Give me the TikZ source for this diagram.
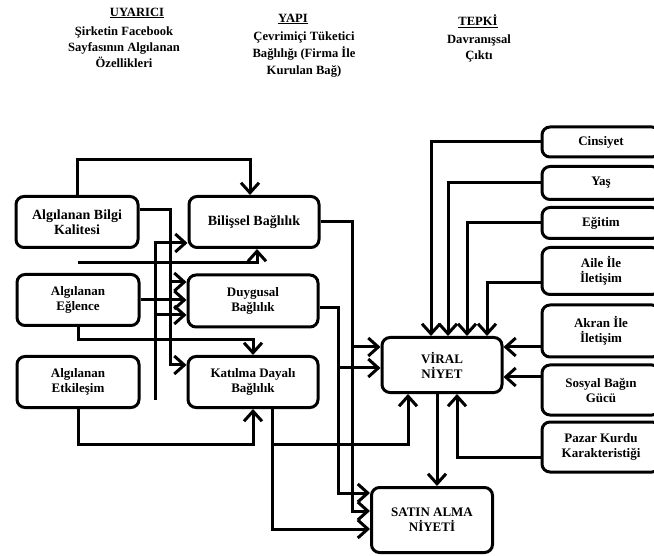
\documentclass[tikz,border=0pt]{standalone}
\usepackage{fontspec}
\setmainfont{Liberation Serif}
\usepackage{tikz}
\usetikzlibrary{arrows.meta}

\begin{document}
\begin{tikzpicture}[
		x=1pt, y=-1pt,
		box/.style={draw, rounded corners=8pt, line width=3pt, align=center,
			inner sep=2pt, font=\bfseries\fontsize{13}{15}\selectfont},
		leftbox/.style={box, minimum width=122pt, minimum height=51pt},
		midbox/.style={box, minimum width=130pt, minimum height=51pt},
		sidebox/.style={box, minimum width=118pt},
		arr/.style={line width=3pt, -{Straight Barb[length=10pt,width=18pt]}},
		head/.style={align=center, font=\bfseries\fontsize{12.6}{16}\selectfont}
	]
  \useasboundingbox (0,0) rectangle (654,556);
  \clip (0,0) rectangle (654,556);

  % headings
  \node (uyarici) [head] at (137,13) {\underline{UYARICI}};
  \node (uyarici_txt) [head] at (124,47) {Şirketin Facebook\\Sayfasının Algılanan\\Özellikleri};
  \node (yapi) [head] at (293,19) {\underline{YAPI}};
  \node (yapi_txt) [head, font=\bfseries\fontsize{12.6}{17}\selectfont] at (304,55) {Çevrimiçi Tüketici\\Bağlılığı (Firma İle\\Kurulan Bağ)};
  \node (tepki) [head] at (478,21) {\underline{TEPKİ}};
  \node (tepki_txt) [head] at (479,48) {Davranışsal\\Çıktı};

  % stimulus
  \node (bilgi) [leftbox, font=\bfseries\fontsize{14}{15}\selectfont] at (77,222) {Algılanan Bilgi\\Kalitesi};
  \node (eglence) [leftbox] at (78,300) {Algılanan\\Eğlence};
  \node (etkilesim) [leftbox] at (78,382) {Algılanan\\Etkileşim};

  % structure
  \node (bilissel) [midbox, font=\bfseries\fontsize{14}{15}\selectfont] at (254,222) {Bilişsel Bağlılık};
  \node (duygusal) [midbox, minimum height=52pt] at (253,301) {Duygusal\\Bağlılık};
  \node (katilma) [midbox] at (253,382) {Katılma Dayalı\\Bağlılık};

  % response
  \node (viral) [box, minimum width=120pt, minimum height=55pt] at (442,365) {VİRAL\\NİYET};
  \node (satin) [box, minimum width=121pt, minimum height=65pt] at (432,520) {SATIN ALMA\\NİYETİ};

  % control variables
  \node (cinsiyet) [sidebox, minimum height=30pt] at (601,142) {Cinsiyet};
  \node (yas) [sidebox, minimum height=33pt] at (601,183) {Yaş};
  \node (egitim) [sidebox, minimum height=31pt] at (601,223) {Eğitim};
  \node (aile) [sidebox, minimum height=47pt] at (601,271) {Aile İle\\İletişim};
  \node (akran) [sidebox, minimum height=52pt] at (601,331) {Akran İle\\İletişim};
  \node (sosyal) [sidebox, minimum height=50pt] at (601,390) {Sosyal Bağın\\Gücü};
  \node (pazar) [sidebox, minimum height=50pt] at (601,447) {Pazar Kurdu\\Karakteristiği};

  % stimulus -> structure
  \coordinate (bx) at (170,0);
  \coordinate (ex) at (155,400);
  \coordinate (eg) at (78,263);
  \coordinate (k_in) at ([yshift=17pt]katilma.west);
  \coordinate (d_in1) at ([yshift=19pt]duygusal.west);
  \coordinate (d_in3) at ([yshift=-14pt]duygusal.west);
  \coordinate (b_in) at ([yshift=-21pt]bilissel.west);
  \draw[arr] (bilgi.north) -- ++(0,-35) -| ([xshift=-4pt]bilissel.north);
  \draw[arr] ([yshift=12pt]bilgi.east) -| (bx |- k_in) -- (k_in);
  \draw[arr] (bx |- d_in1) -- (d_in1);
  \draw[arr] (ex) |- (b_in);
  \draw[arr] (ex |- d_in3) -- (d_in3);
  \draw[arr] (eg) -| ([xshift=3pt]bilissel.south);
  \draw[arr] (eglence.east) -- (eglence.east -| duygusal.west);
  \draw[arr] (eglence.south) -- ++(0,13) -| (katilma.north);
  \draw[arr] (etkilesim.south) -- ++(0,35) -| (katilma.south);

  % structure -> response
  \coordinate (cx1) at (352,0);
  \coordinate (cx2) at (338,0);
  \coordinate (v_in1) at ([yshift=18pt]viral.west);
  \coordinate (v_in2) at ([yshift=-3pt]viral.west);
  \coordinate (s_in1) at ([yshift=27pt]satin.west);
  \coordinate (s_in2) at ([yshift=9pt]satin.west);
  \coordinate (s_in3) at ([yshift=-9pt]satin.west);
  \coordinate (kb) at ([xshift=19pt,yshift=-35pt]katilma.south);
  \draw[arr] (bilissel.east) -| (cx1 |- s_in2) -- (s_in2);
  \draw[arr] (cx1 |- v_in1) -- (v_in1);
  \draw[arr] ([yshift=-7pt]duygusal.east) -| (cx2 |- s_in1) -- (s_in1);
  \draw[arr] (cx2 |- v_in2) -- (v_in2);
  \draw[arr] ([xshift=19pt]katilma.south) |- (s_in3);
  \draw[arr] (kb) -| ([xshift=-34pt]viral.south);
  \draw[arr] ([xshift=-5pt]viral.south) -- ([xshift=-5pt]viral.south |- satin.north);

  % control variables -> viral
  \coordinate (ak) at ([yshift=-16pt]akran.west);
  \coordinate (so) at ([yshift=13pt]sosyal.west);
  \draw[arr] (cinsiyet.west) -| ([xshift=-11pt]viral.north);
  \draw[arr] (yas.west) -| ([xshift=6pt]viral.north);
  \draw[arr] (egitim.west) -| ([xshift=25pt]viral.north);
  \draw[arr] ([yshift=-12pt]aile.west) -| ([xshift=45pt]viral.north);
  \draw[arr] (ak) -- (ak -| viral.east);
  \draw[arr] (so) -- (so -| viral.east);
  \draw[arr] ([yshift=-10pt]pazar.west) -| ([xshift=15pt]viral.south);
\end{tikzpicture}
\end{document}
